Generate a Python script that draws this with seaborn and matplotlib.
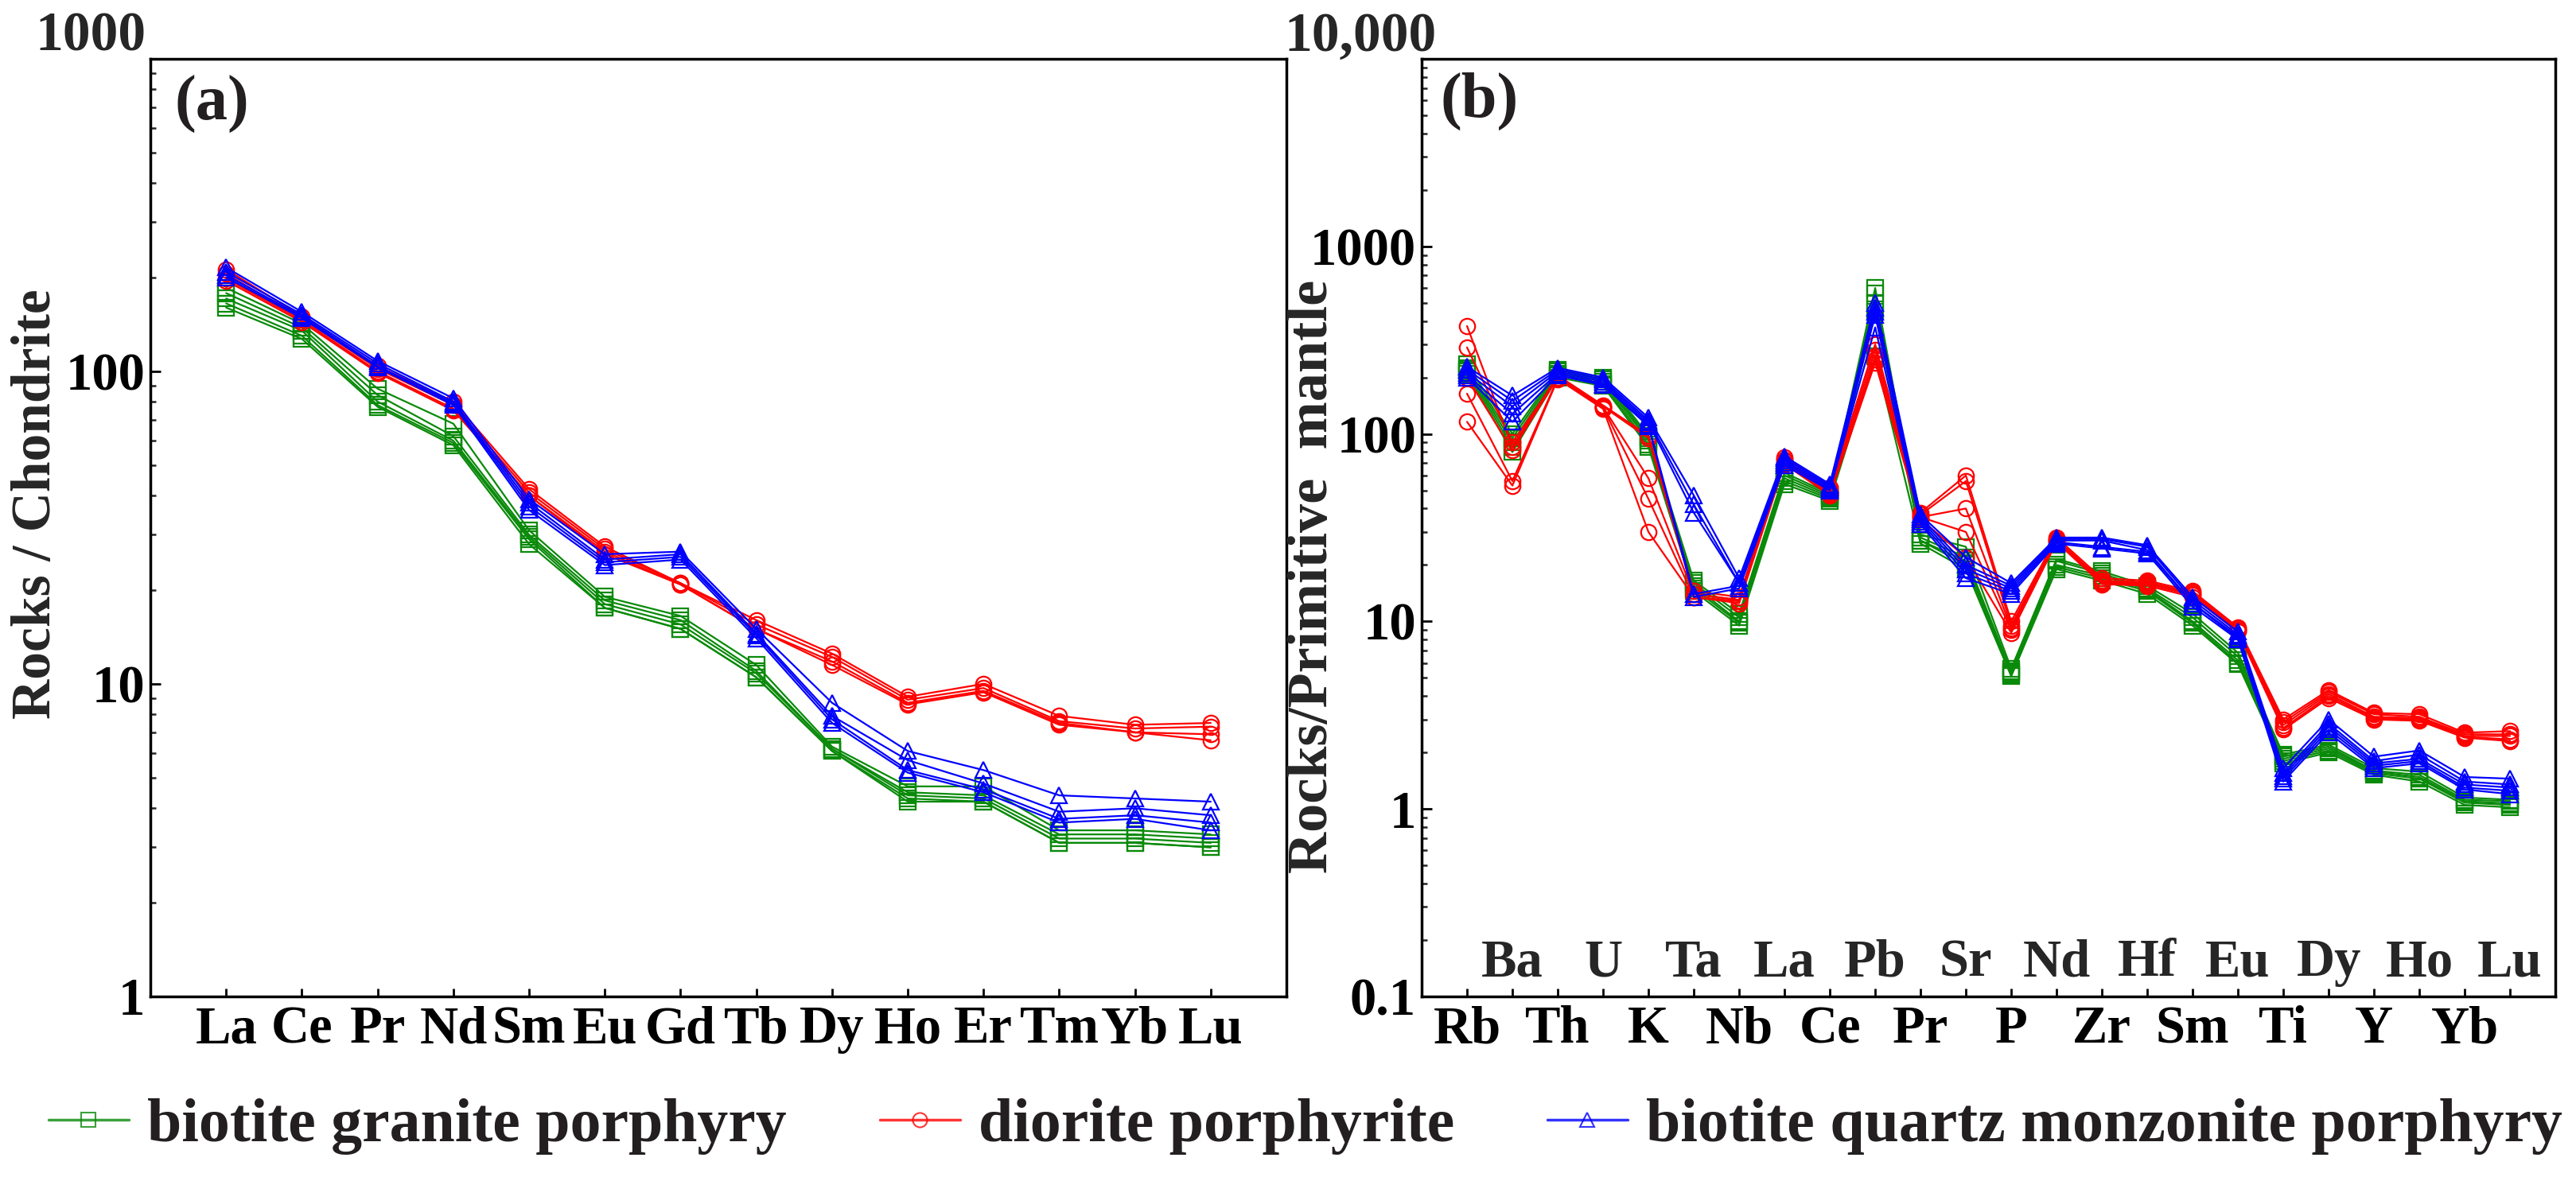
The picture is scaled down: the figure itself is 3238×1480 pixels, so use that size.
import numpy as np
import pandas as pd
import matplotlib
matplotlib.use("Agg")
import matplotlib.pyplot as plt
import matplotlib.transforms as mtransforms
from matplotlib.lines import Line2D
from matplotlib.ticker import LogLocator, NullFormatter
import seaborn as sns

# ---------------- data ----------------
ree_elements = ["La", "Ce", "Pr", "Nd", "Sm", "Eu", "Gd", "Tb", "Dy", "Ho", "Er", "Tm", "Yb", "Lu"]
spider_elements = ["Rb", "Ba", "Th", "U", "K", "Ta", "Nb", "La", "Ce", "Pb", "Pr", "Sr",
                   "P", "Nd", "Zr", "Hf", "Sm", "Eu", "Ti", "Dy", "Y", "Ho", "Yb", "Lu"]

group_names = ["biotite granite porphyry", "diorite porphyrite", "biotite quartz monzonite porphyry"]

# (a) chondrite-normalised REE
ree_granite = [
    [185, 142, 88, 68, 31.0, 19.0, 16.5, 11.5, 6.3, 4.7, 4.7, 3.4, 3.4, 3.3],
    [178, 138, 84, 62, 30.0, 18.5, 16.0, 11.0, 6.2, 4.5, 4.4, 3.3, 3.3, 3.2],
    [171, 135, 80, 60, 29.5, 18.0, 15.5, 10.8, 6.2, 4.4, 4.3, 3.2, 3.2, 3.1],
    [165, 130, 78, 59, 29.0, 17.5, 15.0, 10.5, 6.1, 4.3, 4.2, 3.1, 3.1, 3.0],
    [160, 127, 77, 58, 28.0, 17.5, 15.0, 10.5, 6.1, 4.2, 4.2, 3.1, 3.1, 3.0],
]
ree_diorite = [
    [212, 150, 104, 80, 42, 27.5, 21.0, 16.0, 12.5, 9.1, 10.0, 7.9, 7.4, 7.5],
    [205, 148, 102, 78, 41, 27.0, 21.0, 15.5, 12.2, 8.9, 9.7, 7.6, 7.2, 7.3],
    [198, 146, 100, 76, 40, 26.5, 20.8, 15.0, 11.8, 8.7, 9.5, 7.5, 7.0, 6.9],
    [195, 144, 99, 75, 40, 26.0, 20.8, 15.0, 11.5, 8.6, 9.4, 7.4, 7.0, 6.6],
]
ree_monzonite = [
    [215, 155, 108, 82, 39, 26.0, 26.5, 15.0, 8.7, 6.1, 5.3, 4.4, 4.3, 4.2],
    [208, 152, 106, 80, 38, 25.0, 26.0, 14.5, 7.9, 5.7, 4.8, 3.9, 4.0, 3.8],
    [203, 150, 104, 79, 37, 24.5, 25.5, 14.3, 7.7, 5.3, 4.6, 3.7, 3.8, 3.6],
    [200, 148, 103, 78, 36, 24.0, 25.0, 14.0, 7.5, 5.2, 4.5, 3.6, 3.7, 3.4],
]

# (b) primitive-mantle-normalised trace elements
spider_granite = [
    [235, 100, 220, 200, 98, 16.5, 11.0, 62, 48, 600, 29, 25, 5.6, 21.5, 18.5, 15.5, 11.0, 6.8, 1.95, 2.20, 1.65, 1.58, 1.15, 1.12],
    [225, 95, 215, 195, 95, 16.0, 10.5, 60, 47, 560, 28, 22, 5.4, 21.0, 18.0, 15.0, 10.5, 6.5, 1.90, 2.15, 1.60, 1.52, 1.12, 1.10],
    [220, 90, 210, 190, 92, 15.5, 10.0, 58, 46, 500, 27, 21, 5.3, 20.0, 17.5, 14.8, 10.0, 6.2, 1.85, 2.10, 1.58, 1.48, 1.10, 1.07],
    [215, 85, 205, 185, 88, 15.0, 9.8, 56, 45, 450, 27, 20, 5.2, 19.5, 17.0, 14.5, 9.8, 6.0, 1.80, 2.05, 1.55, 1.45, 1.08, 1.05],
    [210, 80, 200, 180, 85, 14.5, 9.5, 54, 44, 260, 26, 19, 5.1, 19.0, 16.5, 14.0, 9.5, 5.9, 1.75, 2.00, 1.52, 1.40, 1.05, 1.02],
]
spider_diorite = [
    [376, 85, 205, 142, 98, 14.5, 13.5, 75, 52, 300, 38, 60, 10.0, 28.0, 17.0, 16.5, 14.5, 9.3, 3.00, 4.3, 3.25, 3.20, 2.55, 2.60],
    [289, 90, 200, 140, 95, 14.0, 13.0, 73, 50, 280, 37, 56, 9.5, 27.5, 16.5, 16.2, 14.2, 9.2, 2.90, 4.2, 3.20, 3.10, 2.50, 2.50],
    [200, 82, 200, 139, 58, 14.0, 13.0, 72, 49, 260, 36, 40, 9.2, 27.0, 16.2, 16.0, 14.0, 9.0, 2.80, 4.1, 3.10, 3.05, 2.45, 2.45],
    [164, 56, 198, 138, 45, 13.5, 12.8, 70, 48, 250, 36, 30, 9.0, 27.0, 16.0, 15.8, 13.8, 8.9, 2.70, 4.0, 3.05, 3.00, 2.42, 2.35],
    [116, 53, 196, 136, 30, 13.5, 12.5, 69, 47, 240, 35, 22, 8.7, 26.5, 15.8, 15.5, 13.5, 8.8, 2.65, 3.9, 3.00, 2.95, 2.40, 2.30],
]
spider_monzonite = [
    [228, 160, 225, 200, 122, 47.0, 17.0, 76, 54, 500, 37, 22, 16.0, 28.0, 28.0, 25.5, 13.5, 8.8, 1.65, 3.00, 1.90, 2.05, 1.48, 1.45],
    [220, 150, 220, 195, 118, 42.0, 16.0, 74, 53, 470, 36, 20, 15.5, 27.5, 27.5, 25.0, 13.0, 8.5, 1.55, 2.85, 1.80, 1.95, 1.40, 1.35],
    [212, 140, 215, 190, 115, 38.0, 16.0, 72, 52, 450, 35, 19, 15.0, 27.0, 27.0, 24.0, 12.5, 8.3, 1.50, 2.75, 1.75, 1.85, 1.35, 1.30],
    [205, 128, 210, 185, 112, 14.0, 15.5, 70, 51, 430, 34, 18, 14.5, 26.5, 25.0, 23.5, 12.5, 8.1, 1.45, 2.65, 1.70, 1.80, 1.30, 1.25],
    [200, 116, 205, 182, 110, 13.5, 15.0, 68, 50, 370, 33, 17, 14.0, 26.0, 24.5, 23.0, 12.0, 8.0, 1.40, 2.55, 1.65, 1.75, 1.27, 1.20],
]

ree_ticks = ["1", "10", "100", "1000"]
spider_ticks = ["0.1", "1", "10", "100", "1000", "10,000"]

# ---------------- style ----------------
GREEN = "#0a8a0a"
RED = "#ff0000"
BLUE = "#0000ff"
TXT = "#231f20"
colors = [GREEN, RED, BLUE]
markers = ["s", "o", "^"]

sns.set_style("ticks")
plt.rcParams["font.family"] = ["Liberation Serif", "DejaVu Serif"]
plt.rcParams["font.weight"] = "bold"
plt.rcParams["axes.labelweight"] = "bold"


def to_long(samples, tag):
    rows = []
    for i, s in enumerate(samples):
        for j, v in enumerate(s):
            rows.append({"pos": j + 1, "value": v, "sample": f"{tag}{i}"})
    return pd.DataFrame(rows)


fig = plt.figure(figsize=(32.38, 14.80), dpi=100)
axA = fig.add_axes([0.0584, 0.1534, 0.4410, 0.7966])
axB = fig.add_axes([0.5519, 0.1534, 0.4401, 0.7966])


def draw(ax, sets):
    for k, samples in enumerate(sets):
        df = to_long(samples, f"g{k}")
        sns.lineplot(data=df, x="pos", y="value", units="sample", estimator=None,
                     color=colors[k], marker=markers[k], markersize=14,
                     mfc="none", mec=colors[k], mew=1.6, lw=1.6, ax=ax, legend=False)


draw(axA, [ree_granite, ree_diorite, ree_monzonite])
draw(axB, [spider_granite, spider_diorite, spider_monzonite])

for ax in (axA, axB):
    ax.set_yscale("log")
    for s in ax.spines.values():
        s.set_linewidth(2.5)
        s.set_color("black")
    ax.yaxis.set_minor_locator(LogLocator(base=10, subs=np.arange(2, 10) * 1.0, numticks=60))
    ax.yaxis.set_minor_formatter(NullFormatter())
    ax.tick_params(axis="both", which="major", direction="in", length=9, width=2,
                   labelsize=48, pad=5, top=False, right=False, colors="black")
    ax.tick_params(axis="y", which="minor", direction="in", length=5, width=1.8,
                   left=True, right=False)
    ax.tick_params(axis="x", which="major", length=7, pad=8)
    ax.set_xlabel("")

# ---- panel (a)
axA.set_xlim(0, 15)
axA.set_ylim(1, 1000)
axA.set_xticks(range(1, len(ree_elements) + 1), ree_elements)
axA.set_yticks([1, 10, 100, 1000], [ree_ticks[0], ree_ticks[1], ree_ticks[2], ""])
axA.text(-0.004, 1.023, ree_ticks[3], transform=axA.transAxes, ha="right", va="center",
         fontsize=50, fontweight="bold")
axA.set_ylabel("Rocks / Chondrite", fontsize=50, fontweight="bold", va="center")
axA.yaxis.set_label_coords(-0.100, 0.525)
axA.text(0.054, 0.951, "(a)", transform=axA.transAxes, ha="center", va="center",
         fontsize=58, fontweight="bold", color=TXT)

# ---- panel (b)
axB.set_xlim(0, 25)
axB.set_ylim(0.1, 10000)
axB.set_xticks(range(1, len(spider_elements) + 1),
               [e if i % 2 == 0 else "" for i, e in enumerate(spider_elements)])
blend = mtransforms.blended_transform_factory(axB.transData, axB.transAxes)
for i, e in enumerate(spider_elements):
    if i % 2 == 1:
        axB.text(i + 1, 0.022, e, transform=blend, ha="center", va="baseline",
                 fontsize=48, fontweight="bold")
axB.set_yticks([0.1, 1, 10, 100, 1000, 10000], spider_ticks[:-1] + [""])
axB.text(0.0133, 1.023, spider_ticks[-1], transform=axB.transAxes, ha="right", va="center",
         fontsize=50, fontweight="bold")
axB.set_ylabel("Rocks/Primitive  mantle", fontsize=52, fontweight="bold", va="center")
axB.yaxis.set_label_coords(-0.096, 0.448)
axB.text(0.051, 0.955, "(b)", transform=axB.transAxes, ha="center", va="center",
         fontsize=58, fontweight="bold", color=TXT)

# ---- legend
handles = [Line2D([0], [0], color=c, marker=m, mfc="none", mec=c, ms=13, mew=1.5, lw=2.5, alpha=0.8)
           for c, m in zip(colors, markers)]
leg = fig.legend(handles, group_names, loc="center", bbox_to_anchor=(0.5068, 0.043), ncol=3,
                 frameon=False, fontsize=56, handlelength=1.3, handletextpad=0.3,
                 columnspacing=1.5, borderpad=0.0)
for t in leg.get_texts():
    t.set_color(TXT)
    t.set_fontweight("bold")

fig.savefig("out.png", dpi=100, facecolor="white")
